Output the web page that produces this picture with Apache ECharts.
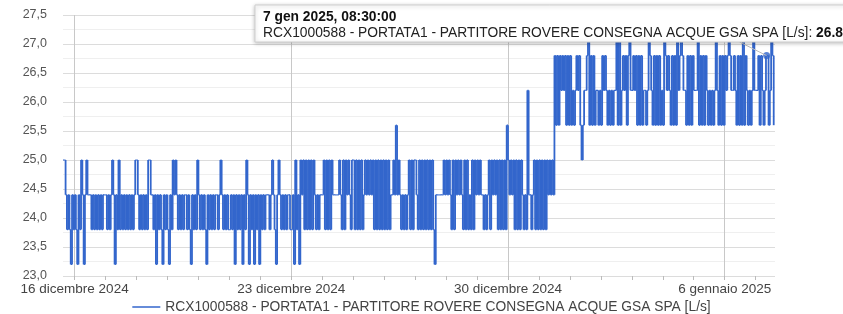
<!DOCTYPE html>
<html>
<head>
<meta charset="utf-8">
<script src="https://cdn.jsdelivr.net/npm/echarts@6.0.0/dist/echarts.min.js"></script>
<style>
  html, body { margin: 0; padding: 0; background: #fff; }
  #chart { width: 843px; height: 314px; }
</style>
</head>
<body>
<div id="chart"></div>
<script>
// livelli di portata (L/s), una lettera per livello
const levels = { a: 23.2, b: 23.8, c: 24.4, d: 25.0, e: 25.6, f: 26.2, g: 26.8, h: 27.4 };

// una riga per giorno, un carattere per ora (15 dic dalle 15:00, 7 gen fino alle 14:00)
const dayRows = [
  'ddcbcbacb',                  // 15 dic
  'cbacbdcacdcccbcbcbcbcbcc',   // 16 dic
  'cbcbcdcacbdbcbcbcbcbcbcd',   // 17 dic
  'dcbcbcbcbddccbcacbcbacbc',   // 18 dic
  'bacbdcdcbcbcbccbcbacbcbd',   // 19 dic
  'cbcbcbacbcbcbccbcdcbcbcb',   // 20 dic
  'bcbcacbcbcacbdcacbcacbca',   // 21 dic
  'cbcbcccbcdcbacdcbcbcbccb',   // 22 dic
  'bcadbcadcdbdbdbdbdcbcbcc',   // 23 dic
  'cdbdbdbdcccccdcbdbdcdcbd',   // 24 dic
  'dbdbdbdbcdcdcdcdbdbdbdbd',   // 25 dic
  'bdbdbccdcecdcbcbcbcdbdbd',   // 26 dic
  'dcbdbdbdbdbdbdbaccccccdc',   // 27 dic
  'dcdcbdbdcdcdcbdbdbcbdbdc',   // 28 dic
  'dcdccbcbcdbdcdcdbdbdbdbe',   // 29 dic
  'dcdcdbdbdbdcbcbfccbcdbdb',   // 30 dic
  'dbdbdbdcdcdcgegegfgfgege',   // 31 dic
  'gefefgfgedeffghegegeffef',   // 1 gen
  'egfgfefefeffhehefgfgeghf',   // 2 gen
  'fgfgegegeffefhgfegegegef',   // 3 gen
  'ehgfgfegegehfghgffegegeg',   // 4 gen
  'fffhegegegfefefefhfegege',   // 5 gen
  'gfghgffgfegegehegfefefhf',   // 6 gen
  'ffgegfefggefhge'             // 7 gen
];

const seriesName = 'RCX1000588 - PORTATA1 - PARTITORE ROVERE CONSEGNA ACQUE GSA SPA [L/s]';
const startTime = new Date(2024, 11, 15, 15, 0).getTime();
const endTime = new Date(2025, 0, 7, 15, 0).getTime();
const HOUR = 3600 * 1000;

// etichette settimanali e tacche giornaliere
const labelDays = [
  new Date(2024, 11, 16).getTime(),
  new Date(2024, 11, 23).getTime(),
  new Date(2024, 11, 30).getTime(),
  new Date(2025, 0, 6).getTime()
];
const tickDays = [];
for (let d = 16; d <= 31 + 7; d++) tickDays.push(new Date(2024, 11, d).getTime());

// punto evidenziato dal tooltip
const tipTime = new Date(2025, 0, 7, 8, 30).getTime();
const tipValue = 26.8;
const tipTitle = '7 gen 2025, 08:30:00';

const mesi = ['gennaio', 'febbraio', 'marzo', 'aprile', 'maggio', 'giugno', 'luglio',
  'agosto', 'settembre', 'ottobre', 'novembre', 'dicembre'];

const data = [];
dayRows.join('').split('').forEach((ch, i) => {
  data.push([startTime + i * HOUR, levels[ch]]);
});

const chart = echarts.init(document.getElementById('chart'));
const fontFamily = '"Liberation Sans", Arial, sans-serif';
const blue = '#3366cc';
const lw = 1.8;

// linea a gradini: il valore resta fino al campione successivo
function renderStep(params, api) {
  const i = params.dataIndex;
  const t = api.value(0);
  const v = api.value(1);
  const p = api.coord([t, v]);
  const children = [];
  if (i > 0) {
    const q = api.coord([t, data[i - 1][1]]);
    children.push({
      type: 'line',
      shape: { x1: p[0], y1: q[1], x2: p[0], y2: p[1] },
      style: { stroke: blue, lineWidth: lw }
    });
  }
  if (i < data.length - 1) {
    const r = api.coord([data[i + 1][0], v]);
    children.push({
      type: 'line',
      shape: { x1: p[0], y1: p[1], x2: r[0], y2: p[1] },
      style: { stroke: blue, lineWidth: 1.2 }
    });
  }
  return { type: 'group', children: children };
}

chart.setOption({
  animation: false,
  textStyle: { fontFamily: fontFamily },
  grid: { left: 63, right: 68, top: 15, bottom: 38 },
  legend: {
    bottom: -5,
    left: 'center',
    icon: 'rect',
    itemWidth: 28,
    itemHeight: 1.5,
    itemGap: 6,
    textStyle: { fontSize: 13.8, color: '#444', fontFamily: fontFamily },
    data: [seriesName]
  },
  xAxis: [
    {
      type: 'value',
      min: startTime,
      max: endTime,
      axisLine: { show: false },
      axisTick: { show: true, length: 4, customValues: tickDays, lineStyle: { color: '#bbb' } },
      axisLabel: {
        customValues: labelDays,
        fontSize: 13.5,
        color: '#444',
        margin: 6,
        formatter: function (v) {
          const d = new Date(v);
          return d.getDate() + ' ' + mesi[d.getMonth()] + ' ' + d.getFullYear();
        }
      },
      splitLine: { show: false }
    },
    {
      type: 'value',
      position: 'top',
      min: startTime,
      max: endTime,
      axisLine: { show: false },
      axisTick: { show: false, customValues: labelDays },
      axisLabel: { show: false, customValues: labelDays },
      splitLine: { show: true, lineStyle: { color: '#c8c8c8', width: 1 } }
    }
  ],
  yAxis: {
    type: 'value',
    min: 23,
    max: 27.5,
    interval: 0.5,
    axisLine: { show: false },
    axisTick: { show: false },
    axisLabel: {
      fontSize: 12.5,
      color: '#555',
      margin: 16,
      formatter: v => v.toFixed(1).replace('.', ',')
    },
    splitLine: { lineStyle: { color: '#dcdcdc' } },
    minorTick: { show: false, splitNumber: 2 },
    minorSplitLine: { show: true, lineStyle: { color: '#efefef' } }
  },
  series: [
    {
      name: seriesName,
      type: 'custom',
      xAxisIndex: 0,
      data: data,
      renderItem: renderStep,
      itemStyle: { color: blue },
      encode: { x: 0, y: 1 },
      silent: true
    },
    {
      name: 'tip',
      type: 'scatter',
      xAxisIndex: 0,
      data: [[tipTime, tipValue]],
      symbol: 'circle',
      symbolSize: 7,
      itemStyle: { color: blue },
      z: 5,
      silent: true
    }
  ]
});

// tooltip fisso come nello screenshot
const pt = chart.convertToPixel({ xAxisIndex: 0, yAxisIndex: 0 }, [tipTime, tipValue]);
chart.setOption({
  graphic: [
    {
      type: 'line',
      z: 99,
      shape: { x1: pt[0] - 27, y1: 42, x2: pt[0], y2: pt[1] },
      style: { stroke: '#bbb', lineWidth: 1 }
    },
    {
      type: 'rect',
      z: 100,
      shape: { x: 255, y: 5, width: 620, height: 37 },
      style: {
        fill: '#fff', stroke: '#cfcfcf', lineWidth: 1,
        shadowBlur: 4, shadowColor: 'rgba(0,0,0,0.25)', shadowOffsetY: 1
      }
    },
    {
      type: 'text',
      z: 101,
      left: 263,
      top: 9,
      style: {
        text: '{b|' + tipTitle + '}\n' + seriesName + ': {b|' + tipValue + '}',
        font: '13.8px ' + fontFamily,
        fill: '#222',
        lineHeight: 16,
        rich: { b: { fontWeight: 'bold', fontSize: 13.8, fill: '#111', lineHeight: 16 } }
      }
    }
  ]
});
</script>
</body>
</html>
